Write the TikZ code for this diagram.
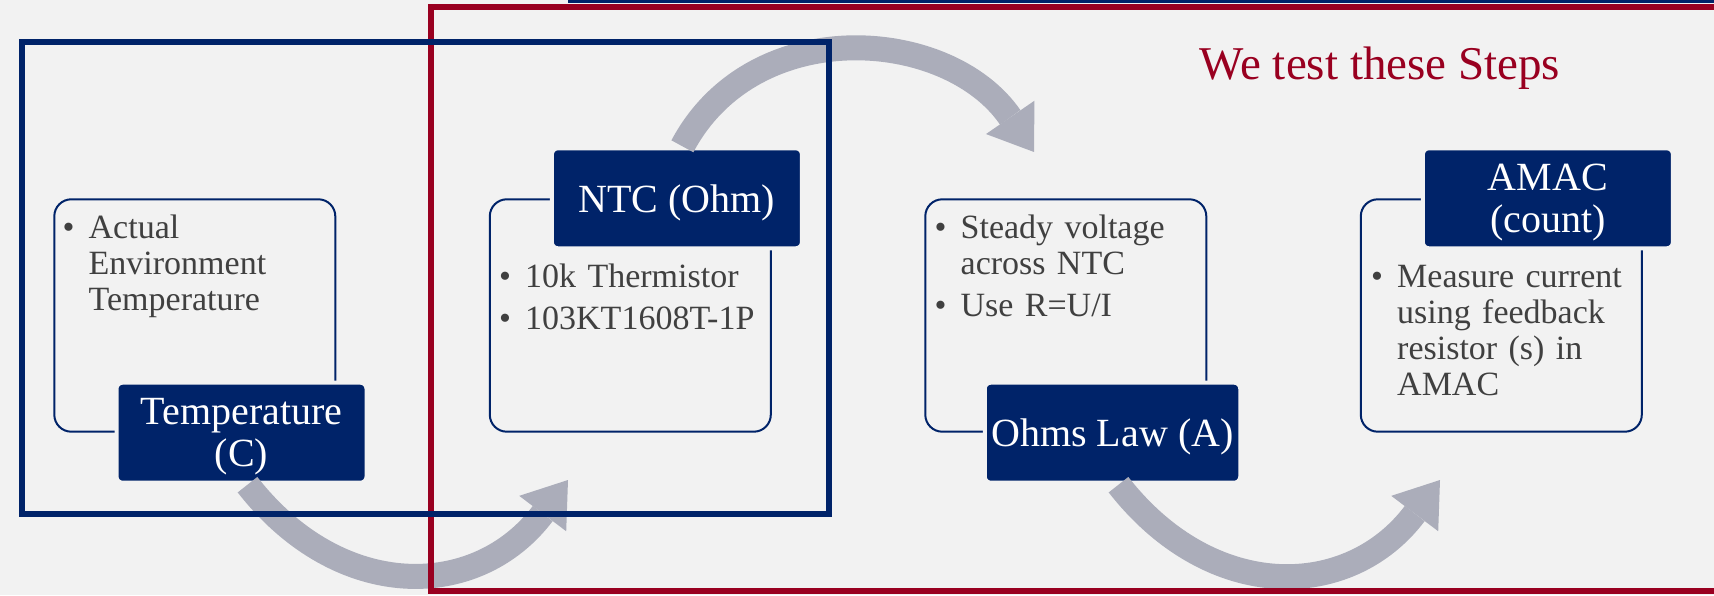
\documentclass[tikz,border=0pt]{standalone}
\usepackage{fontspec}
\setmainfont{Liberation Serif}
\usetikzlibrary{calc,arrows.meta,positioning}
\definecolor{slideNavy}{RGB}{0,35,105}
\definecolor{slideRed}{RGB}{153,0,32}
\definecolor{slideBg}{RGB}{242,242,242}
\definecolor{arrowGrey}{RGB}{171,173,186}
\definecolor{textGrey}{RGB}{64,64,64}
\newcommand{\stepItem}[1]{\raggedright\hangindent=13pt\hangafter=1\noindent\makebox[13pt][l]{\textbullet}#1\par\vspace{3pt}}

\begin{document}
\begin{tikzpicture}[x=0.5pt,y=0.5pt,
  stepbox/.style={draw=slideNavy,line width=1pt,rounded corners=8.5pt,minimum width=140.5pt,minimum height=116.2pt},
  steptag/.style={fill=slideNavy,draw=slideBg,line width=2pt,rounded corners=3pt,minimum width=125pt,minimum height=50pt,text depth=0pt,text=white,align=center,font=\fontsize{20}{21}\selectfont},
  steptext/.style={anchor=base west,inner sep=0pt,text width=130pt,align=left,text=textGrey,font=\fontsize{17}{18}\selectfont},
  flow/.style={draw=arrowGrey,line width=12.5pt,-{Triangle[width=29.4pt,length=21pt,line width=0pt]}}]
\useasboundingbox (0,0) rectangle (1714,595);
\fill[slideBg] (0,0) rectangle (1714,595);

% the four steps
\node[stepbox] (temp) at (194.8,279.5) {};
\node[stepbox,right=76.25pt of temp] (ntc) {};
\node[stepbox,right=76.25pt of ntc] (ohm) {};
\node[stepbox,right=76.25pt of ohm] (amac) {};

\node[steptag] (tempTag) at ($(temp.south)+(46.7,0)$) {Temperature\\(C)};
\node[steptag] (ntcTag) at ($(ntc.north)+(46.6,0)$) {NTC (Ohm)};
\node[steptag] (ohmTag) at ($(ohm.south)+(46.7,0)$) {Ohms Law (A)};
\node[steptag] (amacTag) at ($(amac.north)+(46.6,0)$) {AMAC\\(count)};

\node[steptext] (tempText) at ($(temp.north west)+(9,-40)$) {\stepItem{Actual Environment Temperature}};
\node[steptext] (ntcText) at ($(ntc.north west)+(10,-89)$) {\stepItem{10k Thermistor}\stepItem{103KT1608T-1P}};
\node[steptext] (ohmText) at ($(ohm.north west)+(10,-40)$) {\stepItem{Steady voltage across NTC}\stepItem{Use R=U/I}};
\node[steptext] (amacText) at ($(amac.north west)+(11,-89)$) {\stepItem{Measure current using feedback resistor (s) in AMAC}};

\node[text=slideRed,font=\fontsize{23.5}{26}\selectfont,anchor=base] (title) at (1380,515.7) {We test these Steps};

% curved arrows between the steps
\coordinate (flowAin) at ($(tempTag.south)+(6,0)$);
\coordinate (flowAout) at (568,115);
\coordinate (flowBin) at ($(ntcTag.north)+(5.5,0)$);
\coordinate (flowBout) at (1034,443);
\coordinate (flowCin) at ($(ohmTag.south)+(6,0)$);
\coordinate (flowCout) at (1440,115);
\draw[flow] (flowAin) to[out=-52,in=-127,looseness=1.2] (flowAout);
\draw[flow] (flowBin) to[out=62,in=124.5,looseness=1.1] (flowBout);
\draw[flow] (flowCin) to[out=-52,in=-127,looseness=1.2] (flowCout);

% frames
\draw[slideRed,line width=3pt] (430.7,4) rectangle (1760,588);
\draw[slideNavy,line width=3pt] (21.5,81) rectangle (829,553);
\fill[slideNavy] (567.7,591.7) rectangle (1714,595);
\end{tikzpicture}
\end{document}
